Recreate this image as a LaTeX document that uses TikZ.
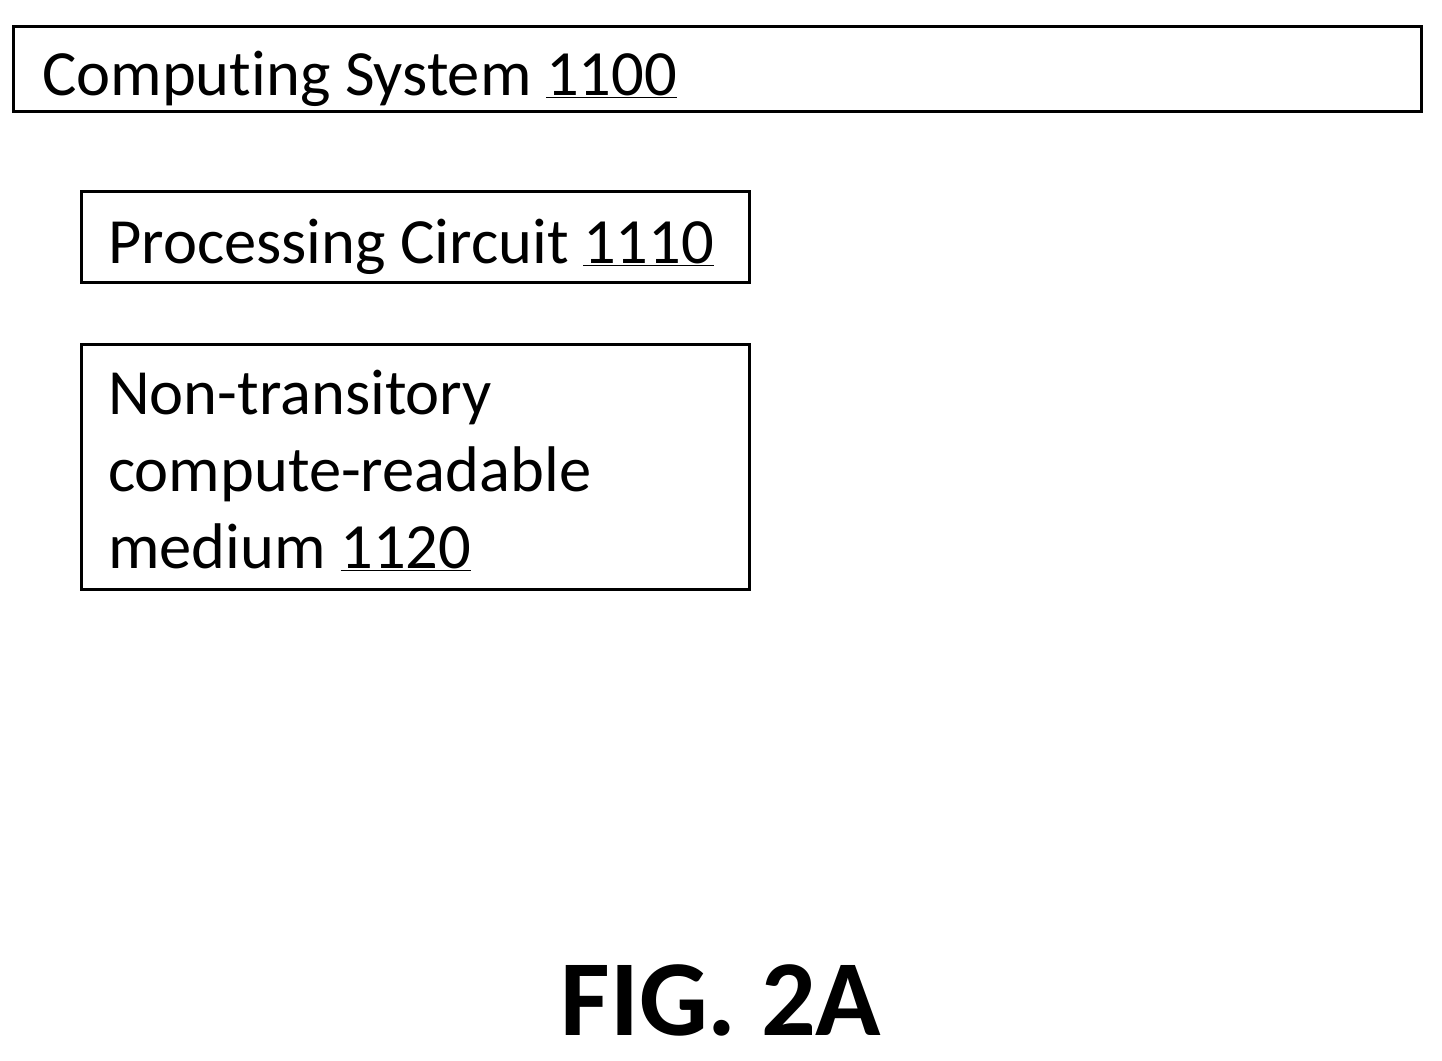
\documentclass[tikz,border=0pt]{standalone}
\usepackage{fontspec}
\setmainfont{Carlito}[Ligatures=NoCommon]
\begin{document}
\begin{tikzpicture}[x=1pt,y=-1pt,
  box/.style={draw,line width=3pt,anchor=north west,inner sep=0pt},
  lbl/.style={anchor=base west,inner sep=0pt,align=left,
    font=\fontsize{64.5}{77}\selectfont}]
\useasboundingbox (0,0) rectangle (1442,1060);
\node[box,minimum width=1408pt,minimum height=85pt] (sys) at (12,25) {};
\node[lbl] (sys text) at (42,95) {Computing System \underline{1100}};
\node[box,minimum width=668pt,minimum height=91pt] (proc) at (80,190) {};
\node[lbl] (proc text) at (108,263) {Processing Circuit \underline{1110}};
\node[box,minimum width=668pt,minimum height=245pt] (med) at (80,343) {};
\node[lbl,anchor=north west] (med text) at (108,370)
  {Non-transitory\\compute-readable\\medium \underline{1120}};
\node[font=\bfseries\fontsize{108}{118}\selectfont,anchor=base] (fig) at (721,1035) {FIG. 2A};
\end{tikzpicture}
\end{document}
